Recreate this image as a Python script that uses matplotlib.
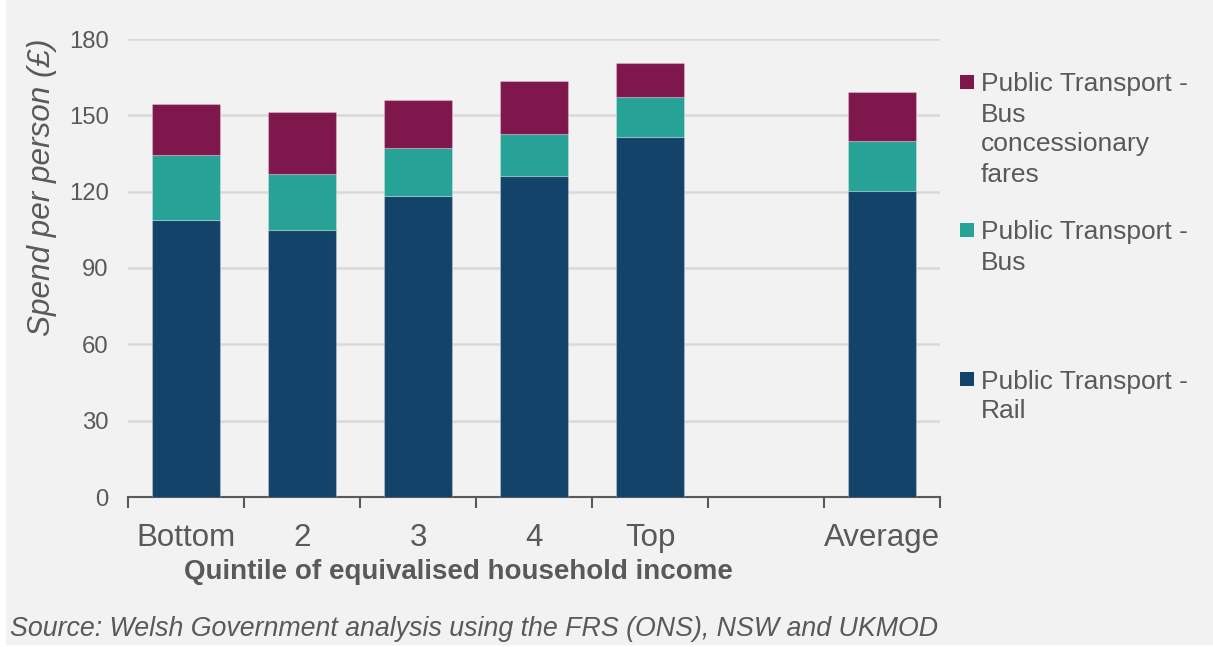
import numpy as np
import matplotlib
matplotlib.use("Agg")
import matplotlib.pyplot as plt
from matplotlib.patches import Rectangle

plt.rcParams["font.family"] = ["Liberation Sans", "DejaVu Sans"]

# Spend per person (£) on public transport, by income quintile
categories = ["Bottom", "2", "3", "4", "Top", "", "Average"]
rail = [108.9, 105.1, 118.4, 126.0, 141.6, np.nan, 120.4]
bus = [25.5, 21.9, 18.7, 16.8, 15.6, np.nan, 19.5]
concessionary = [20.0, 24.2, 18.8, 20.7, 13.3, np.nan, 19.3]
y_ticks = [0, 30, 60, 90, 120, 150, 180]

series_labels = ["Public Transport -\nRail",
                 "Public Transport -\nBus",
                 "Public Transport -\nBus\nconcessionary\nfares"]
colors = ["#134369", "#27a296", "#7f174c"]

TEXT = "#595959"
BG = "#f2f2f2"

W, H = 1213, 647
fig = plt.figure(figsize=(W / 100, H / 100), dpi=100, facecolor="white")
# grey panel behind the chart
fig.patches.append(Rectangle((6 / W, 2 / H), 1 - 6 / W, 1 - 2 / H,
                             transform=fig.transFigure, facecolor=BG,
                             edgecolor="none", zorder=-10))

ax = fig.add_axes([128 / W, 1 - 497 / H, (940 - 128) / W, (497 - 39) / H])
ax.set_facecolor(BG)

x = np.arange(len(categories))
width = 0.59
edge = dict(edgecolor=(1, 1, 1, 0.25), linewidth=0.8)
r = np.array(rail, dtype=float)
b = np.array(bus, dtype=float)
c = np.array(concessionary, dtype=float)
ax.bar(x, r, width, color=colors[0], zorder=3, **edge)
ax.bar(x, b, width, bottom=r, color=colors[1], zorder=3, **edge)
ax.bar(x, c, width, bottom=r + b, color=colors[2], zorder=3, **edge)

ax.set_xlim(-0.5, len(categories) - 0.5)
ax.set_ylim(0, 180)
ax.set_yticks(y_ticks)
ax.yaxis.grid(True, color="#d9d9d9", linewidth=1.8, zorder=0)
ax.set_axisbelow(True)

ax.set_xticks(x)
ax.set_xticklabels(categories)
ax.set_xticks(np.arange(-0.5, len(categories)), minor=True)
ax.tick_params(axis="x", which="major", length=0, pad=18.5,
               labelsize=22.5, labelcolor=TEXT)
ax.tick_params(axis="x", which="minor", length=8, width=1.5,
               color=TEXT, direction="out")
ax.tick_params(axis="y", length=0, pad=14, labelsize=17.2, labelcolor=TEXT)

for s in ["top", "right", "left"]:
    ax.spines[s].set_visible(False)
ax.spines["bottom"].set_color(TEXT)
ax.spines["bottom"].set_linewidth(1.5)

fig.text(42 / W, 1 - 187.5 / H, "Spend per person (£)", rotation=90,
         ha="center", va="center", fontsize=22.7, style="italic", color=TEXT)
fig.text(458 / W, 1 - 572 / H, "Quintile of equivalised household income",
         ha="center", va="center", fontsize=20, fontweight="bold", color=TEXT)
fig.text(10 / W, 1 - 629 / H,
         "Source: Welsh Government analysis using the FRS (ONS), NSW and UKMOD",
         ha="left", va="center", fontsize=19.3, style="italic", color=TEXT)

# legend, top entry first
legend_y = [82, 230, 379]
order = [2, 1, 0]
for y0, i in zip(legend_y, order):
    fig.patches.append(Rectangle(((967 - 7) / W, 1 - (y0 + 7) / H), 14 / W, 14 / H,
                                 transform=fig.transFigure,
                                 facecolor=colors[i], edgecolor="none"))
    for k, line in enumerate(series_labels[i].split("\n")):
        fig.text(981 / W, 1 - (y0 + 30 * k) / H, line, ha="left",
                 va="center_baseline", fontsize=19, color=TEXT)

fig.savefig("out.png", dpi=100, facecolor=fig.get_facecolor())
